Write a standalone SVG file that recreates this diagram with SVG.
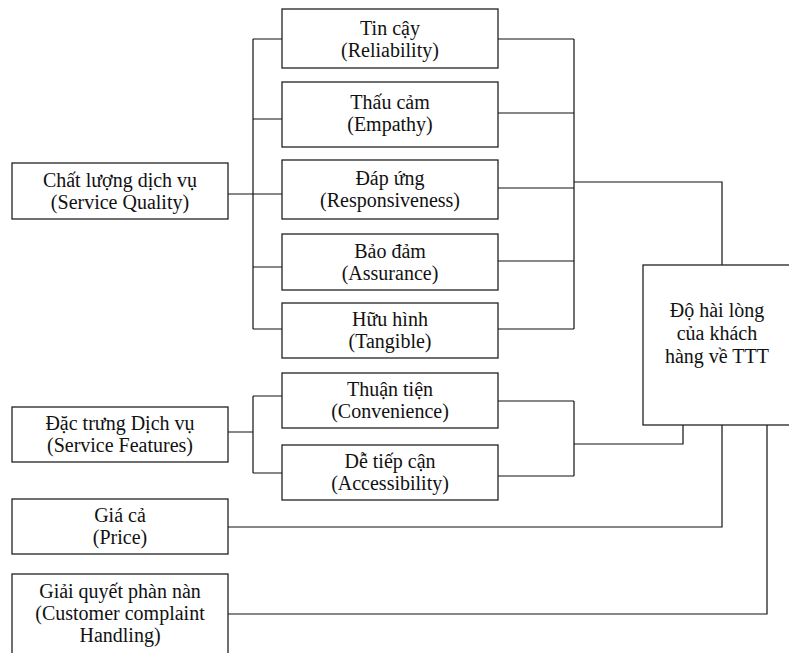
<svg xmlns="http://www.w3.org/2000/svg" width="789" height="653" viewBox="0 0 789 653">
<style>
.box{fill:#fff;stroke:#222;stroke-width:1.3}
.c{fill:none;stroke:#111;stroke-width:1.2}
</style>
<rect width="789" height="653" fill="#fff"/>
<g id="connectors" class="c">
<path d="M253,39V329M253,39H282M253,119H282M253,194H282M253,267H282M253,329H282M228,194H253"/>
<path d="M574,39V329M498,39H574M498,113H574M498,188H574M498,261H574M498,329H574M574,182H722V265"/>
<path d="M253,396V473M253,396H282M253,473H282M228,432H253"/>
<path d="M574,401V476M498,401H574M498,476H574M574,444H683V425"/>
<path d="M228,527H722V425"/>
<path d="M228,614H767V425"/>
</g>
<g font-family="Liberation Serif, Times New Roman, serif" font-size="20" fill="#111" text-anchor="middle">
<g id="n-quality"><rect class="box" x="12" y="163" width="216" height="56"/><text x="120" y="187">Chất lượng dịch vụ</text><text x="120" y="209">(Service Quality)</text></g>
<g id="n-reliability"><rect class="box" x="282" y="9" width="216" height="59"/><text x="390" y="35">Tin cậy</text><text x="390" y="57">(Reliability)</text></g>
<g id="n-empathy"><rect class="box" x="282" y="82" width="216" height="65"/><text x="390" y="109">Thấu cảm</text><text x="390" y="131">(Empathy)</text></g>
<g id="n-responsiveness"><rect class="box" x="282" y="160" width="216" height="59"/><text x="390" y="185">Đáp ứng</text><text x="390" y="207">(Responsiveness)</text></g>
<g id="n-assurance"><rect class="box" x="282" y="234" width="216" height="56"/><text x="390" y="258">Bảo đảm</text><text x="390" y="280">(Assurance)</text></g>
<g id="n-tangible"><rect class="box" x="282" y="303" width="216" height="55"/><text x="390" y="326">Hữu hình</text><text x="390" y="348">(Tangible)</text></g>
<g id="n-convenience"><rect class="box" x="282" y="373" width="216" height="55"/><text x="390" y="396">Thuận tiện</text><text x="390" y="418">(Convenience)</text></g>
<g id="n-accessibility"><rect class="box" x="282" y="445" width="216" height="55"/><text x="390" y="468">Dễ tiếp cận</text><text x="390" y="490">(Accessibility)</text></g>
<g id="n-features"><rect class="box" x="12" y="407" width="216" height="55"/><text x="120" y="430">Đặc trưng Dịch vụ</text><text x="120" y="452">(Service Features)</text></g>
<g id="n-price"><rect class="box" x="12" y="499" width="216" height="55"/><text x="120" y="522">Giá cả</text><text x="120" y="544">(Price)</text></g>
<g id="n-complaint"><rect class="box" x="12" y="574" width="216" height="100"/><text x="120" y="598">Giải quyết phàn nàn</text><text x="120" y="620">(Customer complaint</text><text x="120" y="642">Handling)</text></g>
<g id="n-satisfaction"><rect class="box" x="643" y="265" width="150" height="160"/><text x="717" y="317">Độ hài lòng</text><text x="717" y="340">của khách</text><text x="717" y="363">hàng về TTT</text></g>
</g>
</svg>
